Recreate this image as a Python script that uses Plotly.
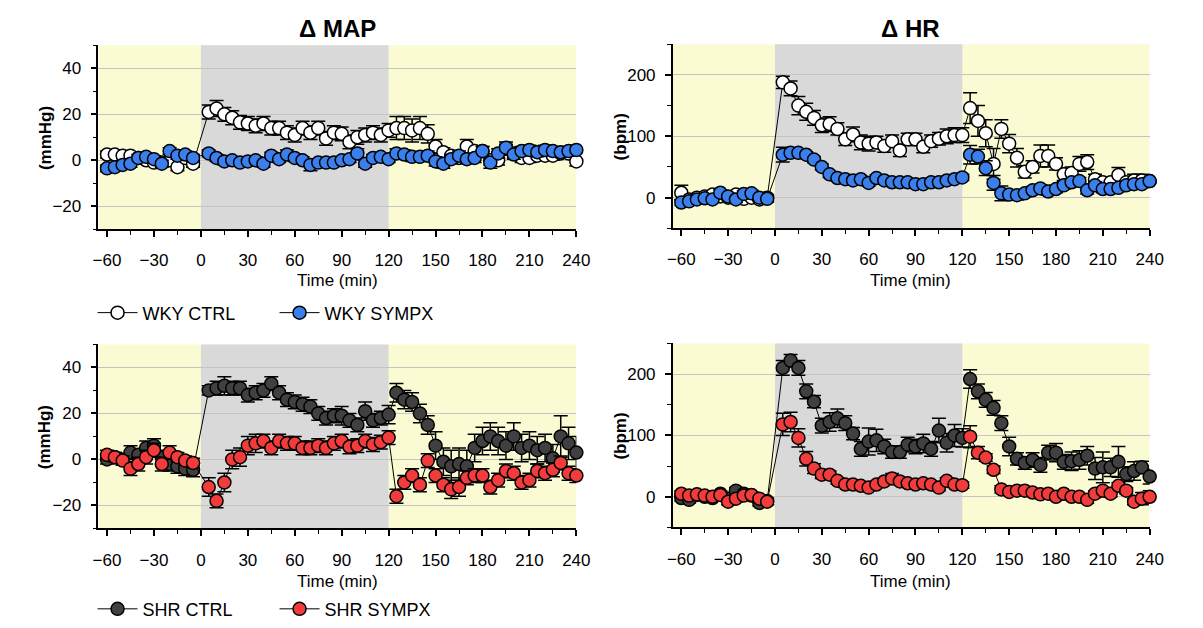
import plotly.graph_objects as go

# ---------------- data ----------------
time_min = [-60, -55, -50, -45, -40, -35, -30, -25, -20, -15, -10, -5,
            5, 10, 15, 20, 25, 30, 35, 40, 45, 50, 55, 60, 65, 70, 75, 80, 85, 90,
            95, 100, 105, 110, 115, 120, 125, 130, 135, 140, 145, 150, 155, 160,
            165, 170, 175, 180, 185, 190, 195, 200, 205, 210, 215, 220, 225, 230,
            235, 240]

map_wky_ctrl = [2.5, 2.5, 2, 2, 1, 0, -1, -1, 0, -3, 1, -1.5,
                21, 22.5, 20, 18.5, 16.5, 16, 15, 16, 14, 14, 12, 11, 14, 12, 14, 9.5,
                12, 11.5, 8, 10, 11, 12, 11, 13, 14, 14, 13, 14, 11.5, 6, 3.5, 2, 1, 6,
                4, 4, 0, 0, 5, 3, 1, 1, 2, 2, 2, 3, 3, -0.5]
map_wky_ctrl_err = [1.5, 1.5, 1.5, 1.5, 1.5, 1.5, 1.5, 1.5, 1.5, 1.5, 1.5, 1.5,
                    3, 3.5, 3, 3, 3, 3, 3, 3, 3, 3, 3, 3, 3, 3, 3, 3, 3, 3, 3, 3, 3, 3,
                    3, 3, 5, 5, 5, 5, 4, 3, 2, 2, 2, 3, 2, 2, 2, 2, 2, 2, 2, 2, 2, 2,
                    2, 2, 2, 2]
map_wky_sympx = [-3.5, -3, -2, -1.5, 1, 1.5, 0.5, -1.5, 4, 2, 2.5, 1,
                 3, 1, -0.5, 0, -1, -0.5, 0, -1.5, 2, 0.5, 2.5, 1, 0, -2, -1, -1, -1, 0,
                 0.5, 3, -1.5, 1, 1.5, 0.5, 3, 2.5, 1.5, 1.5, 2, -0.5, -1.5, 0.5, 2, 0.5,
                 1, 4, -1, 3, 5.5, 2.5, 4, 4.5, 3.5, 4.5, 4, 3.5, 4, 4.5]
map_wky_sympx_err = [1.5, 1.5, 1.5, 1.5, 1.5, 1.5, 1.5, 1.5, 1.5, 1.5, 1.5, 1.5,
                     1.5, 1.5, 1.5, 1.5, 1.5, 1.5, 1.5, 1.5, 1.5, 1.5, 2, 1.5, 1.5, 2.5,
                     1.5, 1.5, 1.5, 1.5, 1.5, 2, 1.5, 1.5, 1.5, 1.5, 2, 2, 2, 2, 2, 2,
                     2, 2, 2, 2, 2, 2, 2.5, 2, 2.5, 2, 2, 2, 2, 2, 2, 2, 2, 2]

hr_wky_ctrl = [8, -3, 0, 2, 5, 2, 0, 5, -2, 0, -3, 0,
               188, 178, 150, 140, 130, 118, 120, 112, 95, 103, 90, 88, 90, 84, 92, 77,
               95, 95, 83, 92, 96, 100, 102, 102, 146, 125, 105, 55, 112, 88, 65, 42,
               50, 68, 68, 55, 38, 40, 55, 58, 30, 25, 25, 37, 25, 28, 28, 27]
hr_wky_ctrl_err = [12, 5, 5, 5, 5, 5, 5, 5, 5, 5, 5, 5,
                   10, 12, 15, 14, 12, 12, 12, 10, 10, 12, 12, 12, 10, 10, 10, 10, 10,
                   10, 10, 10, 10, 12, 12, 12, 25, 25, 22, 25, 15, 15, 15, 10, 10, 18,
                   18, 10, 10, 10, 12, 12, 8, 8, 8, 12, 8, 10, 10, 10]
hr_wky_sympx = [-8, -6, -3, -1, -3, 8, 2, -3, 6, 7, 0, -2,
                70, 73, 73, 70, 62, 50, 38, 32, 30, 28, 30, 24, 32, 28, 25, 25, 25, 22,
                22, 25, 25, 28, 30, 33, 70, 67, 48, 24, 7, 5, 4, 7, 12, 15, 10, 14, 20,
                25, 27, 12, 20, 14, 14, 16, 20, 22, 22, 27]
hr_wky_sympx_err = [5, 5, 5, 5, 5, 5, 5, 5, 5, 5, 5, 5,
                    12, 8, 6, 5, 5, 5, 5, 5, 5, 5, 5, 5, 5, 5, 5, 5, 5, 5, 5, 5, 5, 5,
                    5, 5, 15, 12, 12, 12, 12, 8, 8, 6, 6, 6, 6, 6, 6, 6, 6, 6, 6, 6, 6,
                    6, 6, 6, 6, 6]

map_shr_ctrl = [0, 1, 0, 3, 2, 5, 6, 1, -2, -3, -4, -4.5,
                30, 31, 32, 31, 31, 28, 29, 30, 33, 29, 26, 25, 24, 23, 20, 18, 19, 19,
                17, 15, 21, 17, 18, 19.5, 29, 26, 25, 20, 15, 6, -1, -3, -2, -3, 5, 8,
                10, 8, 6, 10, 5, 6, 4, 5, 0.5, 10, 7, 3]
map_shr_ctrl_err = [2, 2, 2, 3, 2, 3, 3, 3, 3, 3, 3, 3,
                    2, 3, 4, 3, 3, 3, 3, 3, 3, 3, 3, 3, 3, 3, 3, 3, 3, 4, 3, 3, 4, 3,
                    3, 4, 4, 4, 4, 4, 4, 6, 6, 7, 7, 7, 6, 6, 6, 6, 6, 6, 6, 6, 6, 6,
                    6, 9, 7, 7]
map_shr_sympx = [2, 1, -0.5, -4, -2, 1, 4, -2, 3, 1, -0.5, -1.5,
                 -12, -18, -10, 0, 1, 6, 7, 8, 5, 8, 7, 7, 5, 5, 6, 5, 7, 8, 5.5, 6, 8,
                 6.5, 7.5, 9.5, -16, -10, -7, -11, -0.5, -7, -11, -13, -12, -8, -7, -7,
                 -12, -9, -5, -6, -10, -9, -5, -6, -4.5, -1.5, -6, -7]
map_shr_sympx_err = [2, 2, 2, 3, 3, 3, 3, 3, 3, 2, 2, 2,
                     4, 3, 4, 4, 4, 4, 4, 3, 3, 3, 3, 3, 3, 3, 3, 3, 3, 3, 3, 3, 3, 3,
                     3, 3, 3, 3, 3, 3, 3, 3, 3, 4, 4, 3, 3, 3, 3, 3, 3, 3, 3, 3, 3, 3,
                     3, 3, 3, 3]

hr_shr_ctrl = [-2, -5, 3, 0, -2, 5, -3, 10, 5, 2, -10, -7,
               210, 222, 210, 172, 155, 116, 122, 128, 120, 103, 78, 90, 92, 82, 73, 73,
               85, 82, 87, 78, 108, 88, 100, 96, 192, 172, 158, 145, 120, 82, 62, 55,
               60, 52, 72, 72, 57, 58, 60, 67, 46, 48, 48, 57, 37, 42, 48, 33]
hr_shr_ctrl_err = [5, 5, 5, 5, 5, 5, 5, 5, 5, 5, 5, 5,
                   12, 10, 12, 12, 10, 12, 15, 15, 12, 10, 12, 22, 18, 12, 10, 10, 12,
                   12, 15, 12, 20, 15, 18, 15, 15, 12, 12, 12, 12, 15, 10, 10, 12, 12,
                   12, 15, 12, 15, 15, 15, 18, 25, 15, 25, 12, 15, 10, 12]
hr_shr_sympx = [5, 2, 4, 2, 0, 3, -8, -3, 2, 3, -3, -8,
                118, 122, 96, 62, 46, 36, 36, 26, 20, 20, 18, 15, 20, 25, 30, 25, 22,
                20, 22, 20, 15, 26, 20, 19, 98, 72, 64, 44, 12, 8, 10, 10, 7, 4, 5, 0,
                5, 0, 0, -5, 5, 10, 5, 18, 10, -8, -3, 0]
hr_shr_sympx_err = [5, 5, 5, 5, 5, 5, 5, 5, 5, 5, 5, 5,
                    18, 16, 15, 12, 8, 6, 6, 5, 5, 5, 5, 5, 5, 5, 8, 5, 5, 5, 5, 5, 5,
                    5, 5, 5, 18, 10, 6, 6, 6, 5, 5, 5, 5, 5, 5, 5, 5, 5, 5, 5, 5, 5, 5,
                    5, 5, 5, 10, 10]

x_ticks = [-60, -30, 0, 30, 60, 90, 120, 150, 180, 210, 240]

# ---------------- style ----------------
FONT = "Arial, Liberation Sans, sans-serif"
C_WHITE = "#ffffff"
C_BLUE = "#3b7fec"
C_DARK = "#404040"
C_RED = "#f23c3c"
YELLOW = "#fbfbd3"
GRAY = "#d9d9d9"
W, H = 1203, 628
XMIN = -65.5

fig = go.Figure()


def add_series(y, err, color, name, xa, ya, legend, showlegend):
    fig.add_trace(go.Scatter(
        x=time_min, y=y, name=name, mode="lines+markers",
        xaxis=xa, yaxis=ya, legend=legend, showlegend=showlegend,
        line=dict(color="black", width=1),
        marker=dict(size=13, color=color, line=dict(color="black", width=1.5)),
        error_y=dict(type="data", array=err, visible=True, color="black",
                     thickness=1.5, width=7),
        cliponaxis=False,
    ))


add_series(map_wky_ctrl, map_wky_ctrl_err, C_WHITE, "WKY CTRL", "x", "y", "legend", True)
add_series(map_wky_sympx, map_wky_sympx_err, C_BLUE, "WKY SYMPX", "x", "y", "legend", True)
add_series(hr_wky_ctrl, hr_wky_ctrl_err, C_WHITE, "WKY CTRL", "x2", "y2", "legend", False)
add_series(hr_wky_sympx, hr_wky_sympx_err, C_BLUE, "WKY SYMPX", "x2", "y2", "legend", False)
add_series(map_shr_ctrl, map_shr_ctrl_err, C_DARK, "SHR CTRL", "x3", "y3", "legend2", True)
add_series(map_shr_sympx, map_shr_sympx_err, C_RED, "SHR SYMPX", "x3", "y3", "legend2", True)
add_series(hr_shr_ctrl, hr_shr_ctrl_err, C_DARK, "SHR CTRL", "x4", "y4", "legend2", False)
add_series(hr_shr_sympx, hr_shr_sympx_err, C_RED, "SHR SYMPX", "x4", "y4", "legend2", False)

# panel geometry in px (left, right, top, bottom)
panels = {
    "": (94, 580, 46, 233),
    "2": (678, 1163, 45, 232),
    "3": (94, 580, 350, 537),
    "4": (678, 1163, 349, 536),
}
yranges = {"": [-30, 50], "2": [-50, 250], "3": [-30, 50], "4": [-50, 250]}
ytickvals = {"": [-20, 0, 20, 40], "2": [0, 100, 200], "3": [-20, 0, 20, 40], "4": [0, 100, 200]}
yminor = {"": 10, "2": 50, "3": 10, "4": 50}

layout = dict(
    width=W, height=H, margin=dict(l=0, r=0, t=0, b=0),
    paper_bgcolor="white", plot_bgcolor="rgba(0,0,0,0)",
    font=dict(family=FONT, size=17, color="black"),
)
shapes = []
for k, (l, r, t, b) in panels.items():
    xd = [l / W, r / W]
    yd = [1 - b / H, 1 - t / H]
    layout["xaxis" + k] = dict(
        domain=xd, range=[XMIN, 240], tickvals=x_ticks, ticks="outside", ticklen=6,
        tickwidth=1.5, tickcolor="black", showline=True, linecolor="black", linewidth=1.5,
        showgrid=False, zeroline=False, anchor="y" + k, ticklabelstandoff=9,
        minor=dict(dtick=15, tick0=-60, ticks="outside", ticklen=4, tickcolor="black",
                   tickwidth=1.2, showgrid=False),
        tickfont=dict(size=17, family=FONT),
    )
    layout["yaxis" + k] = dict(
        domain=yd, range=yranges[k], tickvals=ytickvals[k], ticks="outside", ticklen=6,
        tickwidth=1.5, tickcolor="black", showline=True, linecolor="black", linewidth=1.5,
        showgrid=True, gridcolor="#c4c4c4", gridwidth=1, zeroline=False, anchor="x" + k,
        ticklabelstandoff=6,
        minor=dict(dtick=yminor[k], ticks="outside", ticklen=4, tickcolor="black",
                   tickwidth=1.2, showgrid=False),
        tickfont=dict(size=17, family=FONT),
    )
    xr = "x" + k
    yr = "y" + k + " domain"
    shapes.append(dict(type="rect", xref=xr, yref=yr, x0=XMIN, x1=240, y0=0, y1=1,
                       fillcolor=YELLOW, line=dict(width=0), layer="below"))
    shapes.append(dict(type="rect", xref=xr, yref=yr, x0=0, x1=120, y0=0, y1=1,
                       fillcolor=GRAY, line=dict(width=0), layer="below"))

layout["shapes"] = shapes


def ann(text, x, y, size, angle=0):
    return dict(text=text, x=x / W, y=1 - y / H, xref="paper", yref="paper",
                xanchor="center", yanchor="middle", showarrow=False, textangle=angle,
                font=dict(size=size, family=FONT))


layout["annotations"] = [
    ann("<b>Δ MAP</b>", 337, 29, 24),
    ann("<b>Δ HR</b>", 920, 29, 24),
    ann("<b>(mmHg)</b>", 40, 140, 17, -90),
    ann("<b>(bpm)</b>", 625, 139, 17, -90),
    ann("<b>(mmHg)</b>", 40, 444, 17, -90),
    ann("<b>(bpm)</b>", 625, 443, 17, -90),
    ann("Time (min)", 337, 285, 17),
    ann("Time (min)", 920, 285, 17),
    ann("Time (min)", 337, 591, 17),
    ann("Time (min)", 920, 591, 17),
]

for key, yc in (("legend", 318), ("legend2", 619)):
    layout[key] = dict(orientation="h", x=88 / W, y=1 - yc / H, xanchor="left",
                       yanchor="middle", font=dict(size=18, family=FONT),
                       bgcolor="rgba(0,0,0,0)", entrywidth=127, entrywidthmode="pixels",
                       itemwidth=40, tracegroupgap=0)

fig.update_layout(**layout)
fig.write_html("out.html")
